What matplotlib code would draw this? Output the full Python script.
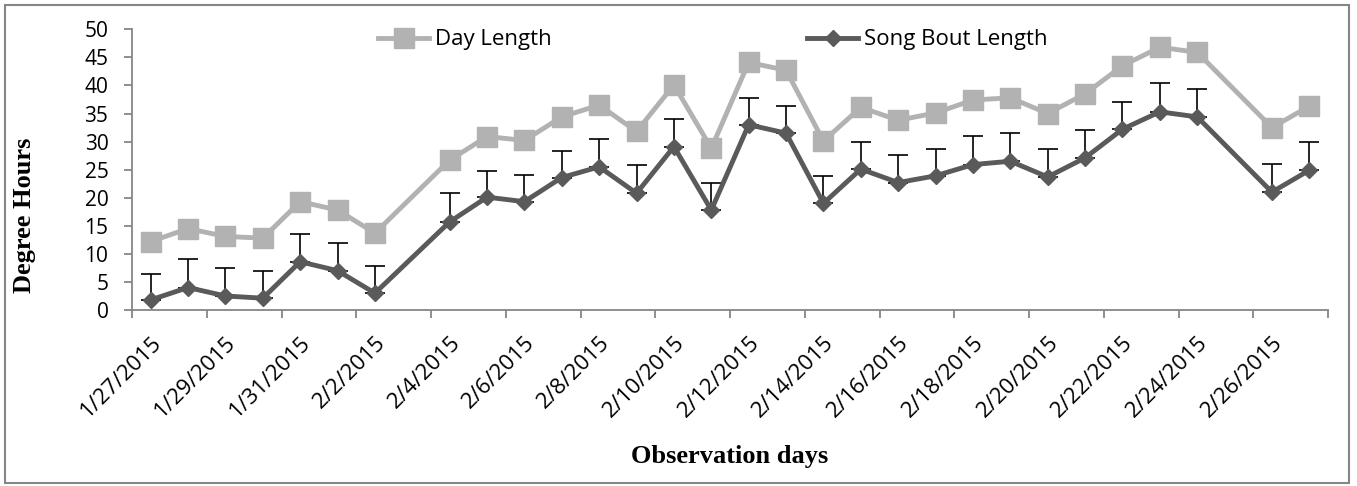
import matplotlib
matplotlib.use("Agg")
import matplotlib.pyplot as plt
import matplotlib.patches as patches
import pandas as pd
import numpy as np

# observation days (2/3 and 2/25 missing)
dates = ['1/27/2015', '1/28/2015', '1/29/2015', '1/30/2015', '1/31/2015', '2/1/2015',
         '2/2/2015', '2/4/2015', '2/5/2015', '2/6/2015', '2/7/2015', '2/8/2015',
         '2/9/2015', '2/10/2015', '2/11/2015', '2/12/2015', '2/13/2015', '2/14/2015',
         '2/15/2015', '2/16/2015', '2/17/2015', '2/18/2015', '2/19/2015', '2/20/2015',
         '2/21/2015', '2/22/2015', '2/23/2015', '2/24/2015', '2/26/2015', '2/27/2015']

day_length = [12.2, 14.5, 13.1, 12.8, 19.3, 17.8, 13.7, 26.7, 30.9, 30.2, 34.4, 36.5,
              31.8, 40.1, 28.8, 44.1, 42.7, 30.1, 36.1, 33.8, 35.1, 37.4, 37.8, 35.0,
              38.5, 43.5, 46.8, 45.9, 32.5, 36.3]

song_bout = [1.8, 4.0, 2.5, 2.1, 8.6, 7.0, 3.0, 15.7, 20.1, 19.3, 23.6, 25.5,
             20.8, 29.1, 17.8, 33.0, 31.5, 19.0, 25.1, 22.7, 23.9, 25.9, 26.5, 23.7,
             27.1, 32.2, 35.3, 34.4, 21.0, 24.9]

song_err = [4.7, 5.0, 5.0, 4.9, 4.9, 4.9, 4.9, 5.1, 4.7, 4.7, 4.8, 4.9,
            5.0, 5.0, 4.9, 4.8, 4.9, 4.9, 4.8, 4.9, 4.8, 5.1, 5.0, 4.9,
            5.0, 4.9, 5.1, 5.0, 5.0, 5.0]

label_dates = ['1/27/2015', '1/29/2015', '1/31/2015', '2/2/2015', '2/4/2015', '2/6/2015',
               '2/8/2015', '2/10/2015', '2/12/2015', '2/14/2015', '2/16/2015', '2/18/2015',
               '2/20/2015', '2/22/2015', '2/24/2015', '2/26/2015']

first_day = pd.Timestamp('2015-01-27')
last_day = pd.Timestamp('2015-02-27')

x = pd.to_datetime(dates, format='%m/%d/%Y')
xl = pd.to_datetime(label_dates, format='%m/%d/%Y')
half = pd.Timedelta(hours=12)
bounds = pd.date_range(first_day - half, last_day + half, freq='2D')

day_col = '#B2B2B2'
song_col = '#5A5A5A'
axis_col = '#868686'

fig = plt.figure(figsize=(13.57, 4.86), dpi=100)
ax = fig.add_axes([132 / 1357, 1 - 310 / 486, 1196 / 1357, 280.7 / 486])

ax.plot(x, day_length, color=day_col, lw=3.5, marker='s', ms=14, label='Day Length', zorder=3)
ax.errorbar(x, song_bout, yerr=[np.zeros(len(song_err)), song_err], fmt='none',
            ecolor='black', elinewidth=1.2, capsize=7, capthick=1.2, zorder=4)
ax.plot(x, song_bout, color=song_col, lw=3.5, marker='D', ms=8.5, label='Song Bout Length', zorder=5)

ax.set_ylim(0, 50)
ax.set_yticks(range(0, 51, 5))
ax.set_xlim(first_day - half, last_day + half)
ax.set_xticks(bounds)
ax.set_xticklabels([])
ax.set_xticks(xl, minor=True)
ax.set_xticklabels(label_dates, minor=True)

for s in ['top', 'right']:
    ax.spines[s].set_visible(False)
for s in ['left', 'bottom']:
    ax.spines[s].set_color(axis_col)
    ax.spines[s].set_linewidth(1.3)

ax.tick_params(axis='both', which='major', direction='out', length=6, width=1.3, color=axis_col)
ax.tick_params(axis='y', labelsize=15, pad=11)
ax.tick_params(axis='x', which='minor', length=0, pad=16, labelsize=16)
for lbl in ax.get_yticklabels():
    lbl.set_family('Open Sans')
for lbl in ax.get_xticklabels(minor=True):
    lbl.set_family('Open Sans')
    lbl.set_rotation(45)
    lbl.set_rotation_mode('anchor')
    lbl.set_ha('right')
    lbl.set_va('top')

ax.set_ylabel('Degree Hours', family='Liberation Serif', weight='bold', fontsize=19)
ax.yaxis.set_label_coords((25 - 132) / 1196, (310 - 215) / 280.7)
ax.yaxis.label.set_va('center')
ax.set_xlabel('Observation days', family='Liberation Serif', weight='bold', fontsize=19)
ax.xaxis.set_label_coords((730 - 132) / 1196, (310 - 456) / 280.7)
ax.xaxis.label.set_va('center')

leg = ax.legend(loc='center left', bbox_to_anchor=((378 - 132) / 1196, (310 - 40) / 280.7),
                ncol=2, frameon=False, borderpad=0, borderaxespad=0, handlelength=2.3,
                handletextpad=0.25, columnspacing=11.5, prop={'family': 'Open Sans', 'size': 16})

fig.patches.append(patches.Rectangle((5 / 1357, 1 - 483 / 486), 1344 / 1357, 478 / 486,
                                     transform=fig.transFigure, fill=False,
                                     edgecolor=axis_col, lw=1.5))

fig.savefig('out.png', dpi=100)
